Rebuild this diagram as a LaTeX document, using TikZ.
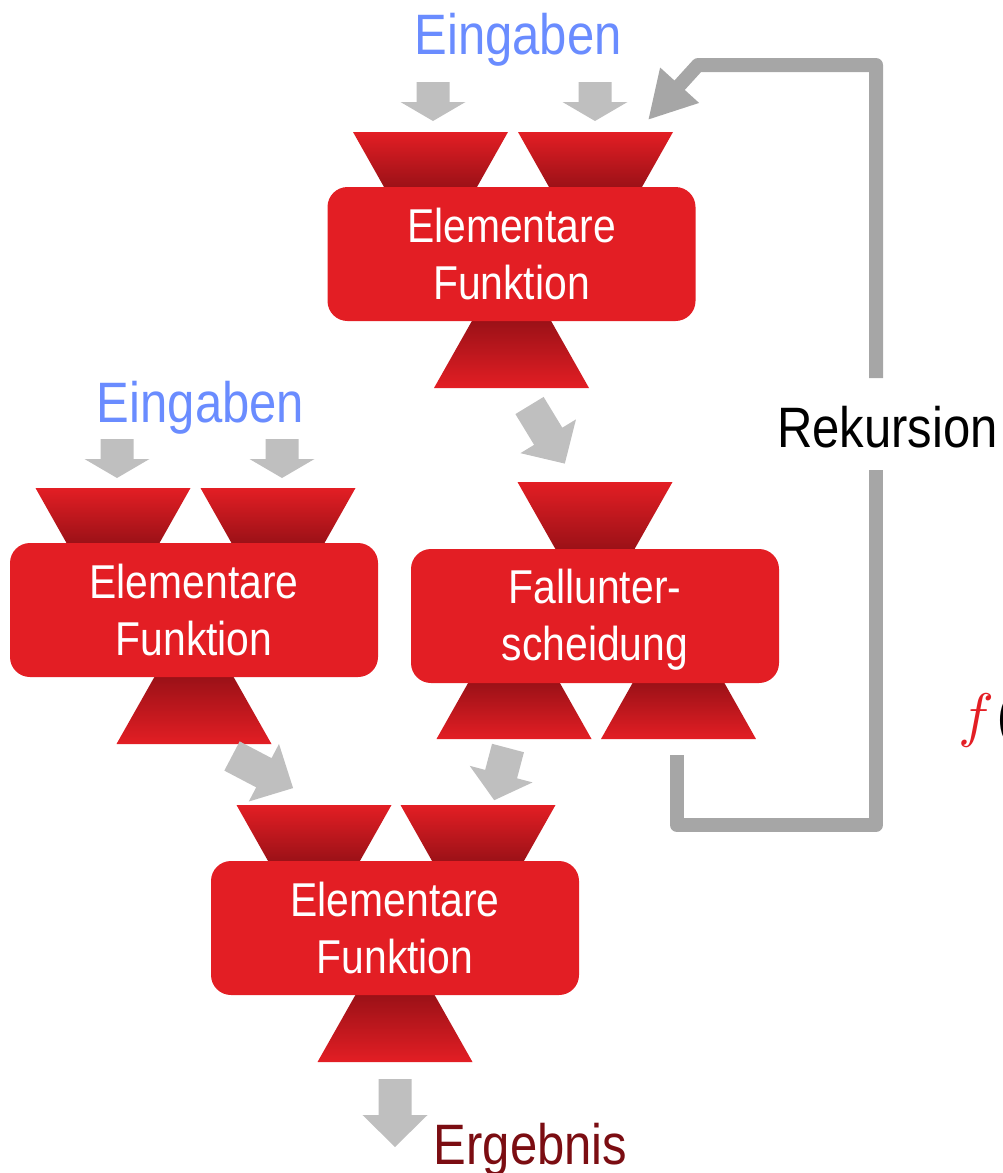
\documentclass[tikz,border=0pt]{standalone}
\usepackage{fontspec}
\setmainfont[FakeStretch=0.86]{Liberation Sans}
\usetikzlibrary{arrows.meta}

\definecolor{boxred}{HTML}{E31E24}
\definecolor{funnelmid}{HTML}{CF1A20}
\definecolor{funneldark}{HTML}{9A1117}
\definecolor{inputblue}{HTML}{6A8CFF}
\definecolor{flowgray}{HTML}{BFBFBF}
\definecolor{loopgray}{HTML}{A6A6A6}
\definecolor{resultred}{HTML}{7B0D12}

% funnel above a box: wide edge at #2, narrow edge at the box border #3
\newcommand\funnelin[3]{%
  \pgfmathsetmacro\nhalf{77.5-0.574*abs(#3-#2)}%
  \shade[top color=boxred, middle color=funnelmid, bottom color=funneldark]
    (#1-77.5,#2) -- (#1+77.5,#2) -- (#1+\nhalf,#3+1) -- (#1-\nhalf,#3+1) -- cycle;}
% funnel below a box: narrow edge at the box border #2, wide edge at #3
\newcommand\funnelout[3]{%
  \pgfmathsetmacro\nhalf{77.5-0.574*abs(#3-#2)}%
  \shade[top color=funneldark, middle color=funnelmid, bottom color=boxred]
    (#1-\nhalf,#2-1) -- (#1+\nhalf,#2-1) -- (#1+77.5,#3) -- (#1-77.5,#3) -- cycle;}
% block arrow: tail centre (#1,#2), direction #3, shaft length #4, head length #5
\newcommand\blockarrow[5]{%
  \fill[flowgray, shift={(#1,#2)}, rotate=#3]
    (0,16.5) -- (#4,16.5) -- (#4,32.5) -- (#4+#5,0) -- (#4,-32.5) -- (#4,-16.5) -- (0,-16.5) -- cycle;}

\tikzset{
  fbox/.style={rectangle, rounded corners=20pt, fill=boxred, text=white,
    minimum width=368pt, minimum height=134pt, inner sep=0pt, align=center,
    font=\fontsize{47.5}{57}\selectfont},
  bigtext/.style={anchor=base, inner sep=0pt, font=\fontsize{57}{68}\selectfont},
  loopline/.style={draw=loopgray, line width=14pt, line join=round},
}

\begin{document}
\begin{tikzpicture}[x=1pt, y=-1pt]
\useasboundingbox (0,0) rectangle (1003,1173);

% funnels (drawn first, the boxes cover their narrow ends)
\funnelin{430.5}{132}{187}
\funnelin{595.5}{132}{187}
\funnelout{511.5}{321}{388}

\funnelin{113}{488}{543}
\funnelin{278}{488}{543}
\funnelout{194}{677}{744}

\funnelin{595}{482}{549}
\funnelout{514}{683}{739}
\funnelout{678.5}{683}{739}

\funnelin{314}{805}{861}
\funnelin{478}{805}{861}
\funnelout{395}{995}{1062}

% function boxes
\node[fbox] (ef1) at (511.5,254) {Elementare\\Funktion};
\node[fbox] (ef2) at (194,610) {Elementare\\Funktion};
\node[fbox] (fu)  at (595,616) {};
\node[align=center, inner sep=0pt, text=white, font=\fontsize{47.5}{57}\selectfont]
  (futext) at (595,620) {Fallunter-\\scheidung};
\node[fbox] (ef3) at (395,928) {Elementare\\Funktion};

% labels
\node[bigtext, text=inputblue] (in1) at (518,54) {Eingaben};
\node[bigtext, text=inputblue] (in2) at (200.5,422) {Eingaben};
\node[bigtext, text=black] (rek) at (887.5,447) {Rekursion};
\node[bigtext, text=resultred] (res) at (530.5,1164) {Ergebnis};
\node[anchor=base west, inner sep=0pt, scale=6]
  (fcall) at (957,735) {$\textcolor{boxred}{f}($};

% flow arrows
\blockarrow{433}{82}{-90}{20}{19}
\blockarrow{595}{82}{-90}{20}{19}
\blockarrow{117}{439}{-90}{20}{19}
\blockarrow{282}{439}{-90}{20}{19}
\blockarrow{529.5}{405.5}{-58.7}{36}{32}
\blockarrow{232}{756}{-27.7}{36}{33}
\blockarrow{508}{748}{-104.8}{27}{27}
\blockarrow{395}{1079}{-90}{36}{32}

% recursion loop back to the inputs
\coordinate (loopstart) at (677,755);
\coordinate (loopbr) at (876,825);
\coordinate (loopgapbot) at (876,470);
\coordinate (loopgaptop) at (876,378);
\coordinate (looptr) at (876,65);
\coordinate (looptl) at (698,65);
\coordinate (loopend) at (648,120);
\draw[loopline] (loopstart) -- (677,825) -- (loopbr) -- (loopgapbot);
\draw[loopline, -{Triangle[width=49pt, length=47pt]}]
  (loopgaptop) -- (looptr) -- (looptl) -- (loopend);
\end{tikzpicture}
\end{document}
